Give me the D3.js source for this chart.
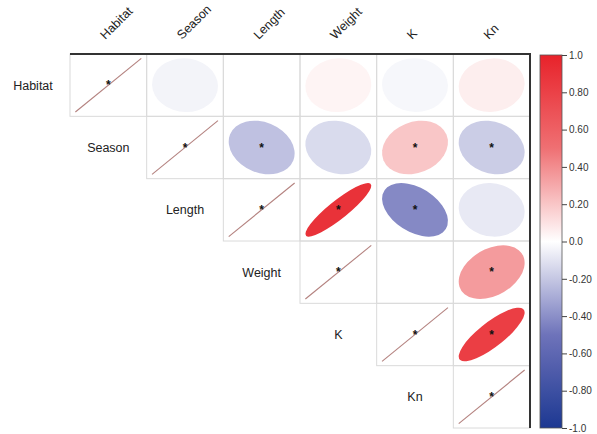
<!DOCTYPE html>
<html>
<head>
<meta charset="utf-8">
<script src="https://cdn.jsdelivr.net/npm/d3@7"></script>
<style>
  body { margin: 0; background: #fff; }
  text { font-family: "Liberation Sans", Arial, sans-serif; }
</style>
</head>
<body>
<svg id="chart" width="597" height="434"></svg>
<script>
// variables and upper-triangle correlations (row i, columns i..5)
var vars = ["Habitat", "Season", "Length", "Weight", "K", "Kn"];
var corrRows = [
  [1, -0.04, 0.0, 0.04, -0.03, 0.06],
  [1, -0.22, -0.13, 0.2, -0.18],
  [1, 0.9, -0.42, -0.08],
  [1, 0.0, 0.35],
  [1, 0.82],
  [1]
];
var sigRows = [
  [1, 0, 0, 0, 0, 0],
  [1, 1, 0, 1, 1],
  [1, 1, 1, 0],
  [1, 0, 1],
  [1, 1],
  [1]
];
var legendTicks = [1, 0.8, 0.6, 0.4, 0.2, 0, -0.2, -0.4, -0.6, -0.8, -1];
var legendLabels = ["1.0", "0.80", "0.60", "0.40", "0.20", "0.0", "-0.20", "-0.40", "-0.60", "-0.80", "-1.0"];

var svg = d3.select("#chart");

var x = d3.scaleBand().domain(d3.range(vars.length)).range([70, 530]);
var y = d3.scaleBand().domain(d3.range(vars.length)).range([54, 428]);

var color = d3.scaleLinear()
  .domain([-1, -0.5, 0, 0.5, 1])
  .range(["#1d3892", "#6e73ba", "#ffffff", "#ef7073", "#e8222a"]);

var sx = x.bandwidth() * 0.43;
var sy = y.bandwidth() * 0.43;

// flatten cells
var cells = [];
corrRows.forEach(function(row, i) {
  row.forEach(function(r, k) {
    cells.push({i: i, j: i + k, r: r, sig: sigRows[i][k]});
  });
});

// cell borders
svg.append("g").selectAll("rect")
  .data(cells)
  .enter()
  .append("rect")
    .attr("x", d => x(d.j))
    .attr("y", d => y(d.i))
    .attr("width", x.bandwidth())
    .attr("height", y.bandwidth())
    .attr("fill", "none")
    .attr("stroke", "#dadada")
    .attr("stroke-width", 1);

// ellipses
svg.append("g").selectAll("ellipse")
  .data(cells.filter(d => d.i !== d.j))
  .enter()
  .append("ellipse")
    .attr("transform", d => "translate(" + (x(d.j) + x.bandwidth() / 2) + "," + (y(d.i) + y.bandwidth() / 2) + ") scale(" + sx + "," + sy + ") rotate(-45)")
    .attr("rx", d => Math.sqrt(1 + d.r))
    .attr("ry", d => Math.sqrt(1 - d.r))
    .attr("fill", d => color(d.r));

// diagonal lines
svg.append("g").selectAll("line")
  .data(cells.filter(d => d.i === d.j))
  .enter()
  .append("line")
    .attr("x1", d => x(d.j) + x.bandwidth() / 2 - sx)
    .attr("x2", d => x(d.j) + x.bandwidth() / 2 + sx)
    .attr("y1", d => y(d.i) + y.bandwidth() / 2 + sy)
    .attr("y2", d => y(d.i) + y.bandwidth() / 2 - sy)
    .attr("stroke", "#b4827f")
    .attr("stroke-width", 1.1);

// significance stars
svg.append("g").selectAll("text")
  .data(cells.filter(d => d.sig))
  .enter()
  .append("text")
    .attr("x", d => x(d.j) + x.bandwidth() / 2)
    .attr("y", d => y(d.i) + y.bandwidth() / 2 + 4)
    .attr("text-anchor", "middle")
    .style("font-size", "12px")
    .style("font-weight", "bold")
    .style("fill", "#111")
    .text("*");

// outer top / right border
svg.append("path")
  .attr("d", "M" + x.range()[0] + "," + y.range()[0] + "H" + x.range()[1] + "V" + y.range()[1])
  .attr("fill", "none")
  .attr("stroke", "#333")
  .attr("stroke-width", 2);

// column labels (rotated)
svg.append("g").selectAll("text")
  .data(vars)
  .enter()
  .append("text")
    .attr("transform", (d, i) => "translate(" + (x(i) + x.bandwidth() / 2 - 3) + ",40) rotate(-45)")
    .style("font-size", "12.5px")
    .style("fill", "#222")
    .text(d => d);

// row labels
svg.append("g").selectAll("text")
  .data(vars)
  .enter()
  .append("text")
    .attr("x", (d, i) => i === 0 ? 33 : x(i - 1) + x.bandwidth() / 2)
    .attr("y", (d, i) => y(i) + y.bandwidth() / 2)
    .attr("dy", "0.35em")
    .attr("text-anchor", "middle")
    .style("font-size", "12.5px")
    .style("fill", "#222")
    .text(d => d);

// color legend
var ly = d3.scaleLinear().domain([-1, 1]).range([428, 55]);
var defs = svg.append("defs");
var grad = defs.append("linearGradient")
  .attr("id", "cgrad")
  .attr("x1", 0).attr("x2", 0).attr("y1", 1).attr("y2", 0);
grad.selectAll("stop")
  .data(d3.range(-1, 1.001, 0.1))
  .enter()
  .append("stop")
    .attr("offset", d => ((d + 1) / 2 * 100) + "%")
    .attr("stop-color", d => color(d));

svg.append("rect")
  .attr("x", 540)
  .attr("y", ly(1))
  .attr("width", 22)
  .attr("height", ly(-1) - ly(1))
  .attr("fill", "url(#cgrad)")
  .attr("stroke", "#555")
  .attr("stroke-width", 0.8);

var laxis = svg.append("g")
  .attr("transform", "translate(562,0)")
  .call(d3.axisRight(ly)
    .tickValues(legendTicks)
    .tickSize(5)
    .tickPadding(2)
    .tickFormat((d, i) => legendLabels[i]));
laxis.select(".domain").remove();
laxis.selectAll("line").attr("stroke", "#444");
laxis.selectAll("text")
  .style("font-size", "10px")
  .style("font-family", "Liberation Sans, Arial, sans-serif")
  .style("fill", "#333");
</script>
</body>
</html>
